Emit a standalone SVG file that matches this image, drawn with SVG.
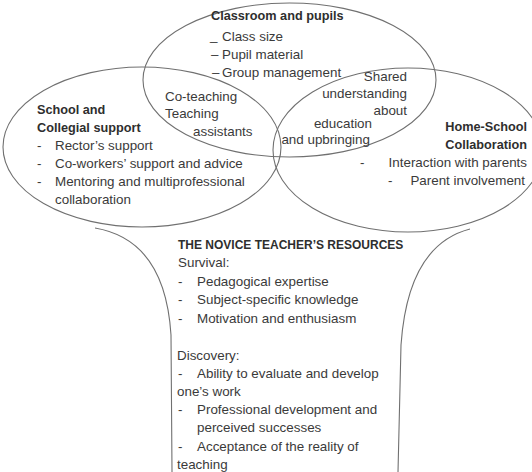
<svg xmlns="http://www.w3.org/2000/svg" width="532" height="472" viewBox="0 0 532 472">
<style>
.ln{fill:none;stroke:#707070;stroke-width:1.1}
text{font-family:"Liberation Sans",Arial,sans-serif;font-size:13.4px;fill:#3a3a3a}
.b{font-weight:bold;font-size:12.7px;fill:#2e2e2e}
.e{text-anchor:end}
</style>
<rect width="532" height="472" fill="#ffffff"/>
<g id="classroom">
<ellipse class="ln" cx="289.5" cy="80" rx="146.5" ry="77"/>
<text class="b" x="211" y="20">Classroom and pupils</text>
<text x="210" y="40">_</text><text x="222" y="41">Class size</text>
<text x="211" y="59">–</text><text x="222" y="59">Pupil material</text>
<text x="212" y="77">–</text><text x="222" y="77">Group management</text>
</g>
<g id="school">
<ellipse class="ln" cx="142" cy="147" rx="139" ry="80"/>
<text class="b" x="37" y="114">School and</text>
<text class="b" x="37" y="132">Collegial support</text>
<text x="37" y="150">-</text><text x="55" y="150">Rector’s support</text>
<text x="37" y="168">-</text><text x="55" y="168">Co-workers’ support and advice</text>
<text x="37" y="186">-</text><text x="55" y="186">Mentoring and multiprofessional</text>
<text x="55" y="204">collaboration</text>
</g>
<g id="home">
<ellipse class="ln" cx="408" cy="150" rx="135" ry="82"/>
<text class="b e" x="527" y="131">Home-School</text>
<text class="b e" x="527" y="149">Collaboration</text>
<text x="360" y="167">-</text><text class="e" x="527" y="167">Interaction with parents</text>
<text x="388" y="185">-</text><text class="e" x="525" y="185">Parent involvement</text>
</g>
<g id="overlaps">
<text x="165" y="101">Co-teaching</text>
<text x="165" y="118">Teaching</text>
<text x="193" y="136">assistants</text>
<text class="e" x="407" y="81">Shared</text>
<text class="e" x="407" y="98">understanding</text>
<text class="e" x="407" y="115">about</text>
<text class="e" x="372" y="128">education</text>
<text class="e" x="370" y="144">and upbringing</text>
</g>
<g id="resources">
<path class="ln" d="M95,228 Q165,240 171,335 L172,472"/>
<path class="ln" d="M470,229 Q408,245 401,345 L398,472"/>
<text class="b" x="178" y="249" style="font-size:12px">THE NOVICE TEACHER’S RESOURCES</text>
<text x="178" y="267">Survival:</text>
<text x="178" y="286">-</text><text x="197" y="286">Pedagogical expertise</text>
<text x="178" y="304">-</text><text x="197" y="304">Subject-specific knowledge</text>
<text x="178" y="323">-</text><text x="197" y="323">Motivation and enthusiasm</text>
<text x="177" y="360">Discovery:</text>
<text x="178" y="378">-</text><text x="197" y="378">Ability to evaluate and develop</text>
<text x="177" y="396">one’s work</text>
<text x="178" y="414">-</text><text x="197" y="414">Professional development and</text>
<text x="197" y="432">perceived successes</text>
<text x="178" y="451">-</text><text x="197" y="451">Acceptance of the reality of</text>
<text x="177" y="469">teaching</text>
</g>
</svg>
